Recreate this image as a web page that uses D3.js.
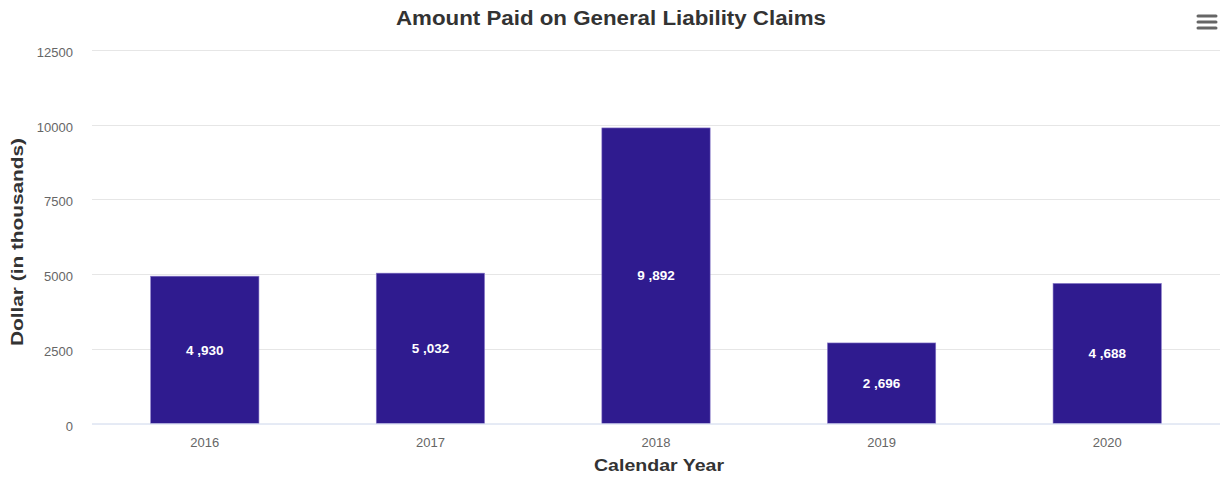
<!DOCTYPE html>
<html>
<head>
<meta charset="utf-8">
<script src="https://cdn.jsdelivr.net/npm/d3@7"></script>
<style>
  body { margin: 0; background: #fff; }
  svg { font-family: "Liberation Sans", Arial, sans-serif; }
</style>
</head>
<body>
<div id="chart"></div>
<script>
// chart data
let years = ['2016', '2017', '2018', '2019', '2020'];
let amounts = [4930, 5032, 9892, 2696, 4688];
let amountLabels = ['4 ,930', '5 ,032', '9 ,892', '2 ,696', '4 ,688'];
let yTicks = [0, 2500, 5000, 7500, 10000, 12500];

let config = { svg: {}, plot: {} };
config.svg.width = 1221;
config.svg.height = 478;
config.plot.left = 92;
config.plot.right = 1220;
config.plot.top = 50;
config.plot.bottom = 423.5;

let svg = d3.select('#chart').append('svg')
  .attr('width', config.svg.width)
  .attr('height', config.svg.height);

let x = d3.scaleBand()
  .domain(years)
  .range([config.plot.left, config.plot.right])
  .paddingInner(0.52)
  .paddingOuter(0.26);

let y = d3.scaleLinear()
  .domain([0, 12500])
  .range([config.plot.bottom, config.plot.top]);

// grid lines
svg.append('g')
  .selectAll('line')
  .data(yTicks.slice(1))
  .enter().append('line')
  .attr('x1', config.plot.left)
  .attr('x2', config.plot.right)
  .attr('y1', d => Math.round(y(d)) + 0.5)
  .attr('y2', d => Math.round(y(d)) + 0.5)
  .style('stroke', '#e6e6e6');

// y axis labels (no thousands separator, like the original)
let yAxis = d3.axisLeft(y).tickValues(yTicks).tickSize(0).tickPadding(0)
  .tickFormat(d3.format('d'));
svg.append('g')
  .attr('transform', 'translate(' + (config.plot.left - 19) + ',2)')
  .call(yAxis)
  .call(g => g.select('.domain').remove())
  .selectAll('text')
  .style('font-size', '13px')
  .style('fill', '#666')
  .attr('dy', '0.35em');

// bars
svg.append('g')
  .selectAll('rect')
  .data(amounts)
  .enter().append('rect')
  .attr('x', (d, i) => x(years[i]))
  .attr('y', d => y(d))
  .attr('width', x.bandwidth())
  .attr('height', d => y(0) - y(d))
  .style('fill', '#2f1b8f')
  .style('stroke', '#8878c8')
  .style('stroke-width', 0.6);

// bar labels
svg.append('g')
  .selectAll('text')
  .data(amounts)
  .enter().append('text')
  .attr('x', (d, i) => x(years[i]) + x.bandwidth() / 2)
  .attr('y', d => (y(d) + y(0)) / 2)
  .attr('dy', '0.35em')
  .attr('text-anchor', 'middle')
  .style('font-size', '13.5px')
  .style('font-weight', 'bold')
  .style('fill', '#fff')
  .text((d, i) => amountLabels[i]);

// x axis baseline
svg.append('line')
  .attr('x1', config.plot.left)
  .attr('x2', config.plot.right)
  .attr('y1', config.plot.bottom + 0.5)
  .attr('y2', config.plot.bottom + 0.5)
  .style('stroke', '#ccd6eb');

// x axis labels
let xAxis = d3.axisBottom(x).tickSize(0).tickPadding(0);
svg.append('g')
  .attr('transform', 'translate(0,447)')
  .call(xAxis)
  .call(g => g.select('.domain').remove())
  .selectAll('text')
  .style('font-size', '13px')
  .style('fill', '#666')
  .attr('dy', '0');

// titles
svg.append('text')
  .attr('x', 611)
  .attr('y', 25)
  .attr('text-anchor', 'middle')
  .attr('textLength', 430)
  .attr('lengthAdjust', 'spacingAndGlyphs')
  .style('font-size', '20px')
  .style('font-weight', 'bold')
  .style('fill', '#333')
  .text('Amount Paid on General Liability Claims');

svg.append('text')
  .attr('x', 659)
  .attr('y', 471)
  .attr('text-anchor', 'middle')
  .attr('textLength', 130)
  .attr('lengthAdjust', 'spacingAndGlyphs')
  .style('font-size', '17px')
  .style('font-weight', 'bold')
  .style('fill', '#333')
  .text('Calendar Year');

svg.append('text')
  .attr('transform', 'translate(23,242) rotate(-90)')
  .attr('text-anchor', 'middle')
  .attr('textLength', 208)
  .attr('lengthAdjust', 'spacingAndGlyphs')
  .style('font-size', '17px')
  .style('font-weight', 'bold')
  .style('fill', '#333')
  .text('Dollar (in thousands)');

// menu icon
svg.append('g')
  .selectAll('line')
  .data([0, 1, 2])
  .enter().append('line')
  .attr('x1', 1198)
  .attr('x2', 1216)
  .attr('y1', d => 16 + d * 6)
  .attr('y2', d => 16 + d * 6)
  .style('stroke', '#666')
  .style('stroke-width', 3)
  .style('stroke-linecap', 'round');
</script>
</body>
</html>
